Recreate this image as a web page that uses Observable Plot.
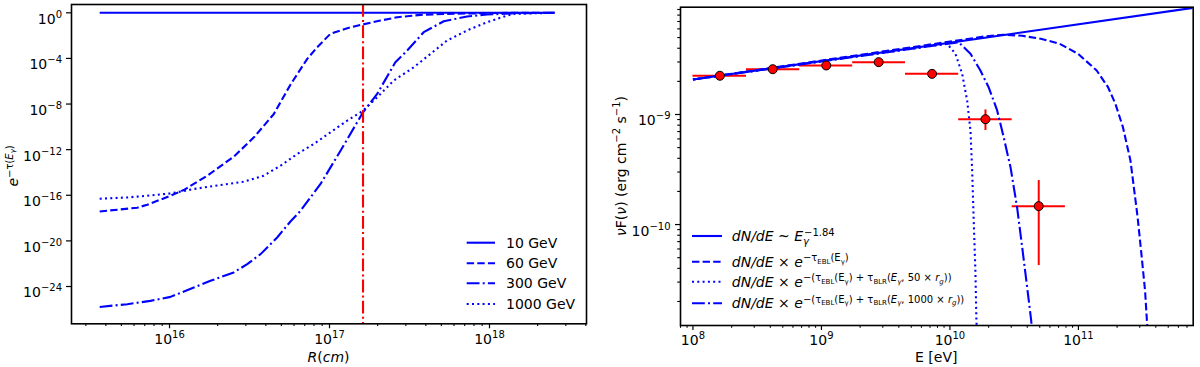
<!DOCTYPE html>
<html><head><meta charset="utf-8">
<script src="https://cdn.jsdelivr.net/npm/d3@7"></script>
<script src="https://cdn.jsdelivr.net/npm/@observablehq/plot@0.6"></script>
<style>
html,body{margin:0;padding:0;background:#fff;}
#wrap{display:flex;width:1200px;height:367px;overflow:hidden;}
#wrap svg{display:block;flex:none;}
</style></head><body><div id="wrap"></div>
<script>
// ---------------- LEFT PANEL DATA: e^{-tau} vs R ----------------
const leftLabels = ["10 GeV", "60 GeV", "300 GeV", "1000 GeV"];
const R10 = [3.66e15, 2.55e18];
const T10 = [1, 1];
const R60 = [3.66e15, 6.28e15, 7.26e15, 1.014e16, 1.227e16, 1.722e16, 2.52e16, 3.37e16, 4.49e16, 5.70e16, 7.26e16, 8.37e16, 1.014e17, 1.291e17, 1.607e17, 2.08e17, 2.65e17, 3.71e17, 5.43e17, 8.79e17, 1.419e18, 2.55e18];
const T60 = [3.80e-18, 8.13e-18, 1.48e-17, 9.12e-17, 2.88e-16, 5.25e-15, 2.40e-13, 1.20e-11, 1.35e-9, 5.01e-7, 9.12e-5, 9.55e-4, 1.45e-2, 4.47e-2, 9.33e-2, 0.209, 0.407, 0.661, 0.813, 0.912, 1, 1];
const R300 = [3.66e15, 5.45e15, 7.60e15, 1.014e16, 1.419e16, 1.803e16, 2.52e16, 3.06e16, 3.71e16, 4.71e16, 5.70e16, 6.59e16, 8.79e16, 1.172e17, 1.607e17, 1.986e17, 2.58e17, 3.06e17, 3.88e17, 5.18e17, 7.24e17, 9.66e17, 1.445e18, 2.55e18];
const T300 = [1.62e-26, 2.82e-26, 5.50e-26, 1.23e-25, 8.13e-25, 3.16e-24, 1.70e-23, 9.12e-23, 6.92e-22, 2.00e-20, 5.01e-19, 4.37e-18, 9.77e-16, 8.13e-13, 1.58e-9, 7.76e-8, 4.57e-5, 4.90e-4, 2.00e-2, 0.182, 0.479, 0.708, 0.912, 1];
const R1000 = [3.66e15, 5.45e15, 7.26e15, 1.014e16, 1.419e16, 2.08e16, 2.91e16, 3.88e16, 4.94e16, 6.28e16, 7.98e16, 1.014e17, 1.291e17, 1.607e17, 1.986e17, 2.52e17, 3.37e17, 4.28e17, 5.43e17, 7.24e17, 9.66e17, 1.288e18, 1.445e18, 2.55e18];
const T1000 = [5.01e-17, 6.46e-17, 9.12e-17, 1.45e-16, 3.55e-16, 7.94e-16, 1.55e-15, 5.25e-15, 3.89e-14, 4.17e-13, 3.16e-12, 3.31e-11, 3.55e-10, 2.40e-9, 3.89e-8, 1.15e-6, 1.70e-5, 2.51e-4, 3.72e-3, 2.82e-2, 0.148, 0.575, 0.813, 1];
const vlineR = [1.62e17];
const leftXDomain = [2.44e15, 4.04e18];
const leftYDomain = [5.37e-28, 5.35];
const leftXMajor = [1e16, 1e17, 1e18];
const leftYMajor = [1, 1e-4, 1e-8, 1e-12, 1e-16, 1e-20, 1e-24];

// ---------------- RIGHT PANEL DATA: SED ----------------
const E_pl = [1e8, 7.8e11];
const F_pl = [2.08e-9, 9.3e-9];
const E_ebl = [1e8, 1.87e10, 2.61e10, 3.65e10, 5.09e10, 7.13e10, 9.93e10, 1.387e11, 1.70e11, 1.94e11, 2.22e11, 2.54e11, 2.70e11, 2.89e11, 3.09e11, 3.30e11, 3.43e11, 3.51e11];
const F_ebl = [2.08e-9, 5.12e-9, 5.31e-9, 5.19e-9, 4.88e-9, 4.40e-9, 3.56e-9, 2.51e-9, 1.77e-9, 1.25e-9, 7.67e-10, 3.82e-10, 2.18e-10, 1.16e-10, 5.42e-11, 2.51e-11, 1.21e-11, 7.9e-12];
const E_blr50 = [1e8, 9.51e9, 1.104e10, 1.245e10, 1.361e10, 1.445e10, 1.489e10, 1.531e10, 1.578e10, 1.607e10, 1.644e10];
const F_blr50 = [2.08e-9, 4.40e-9, 3.56e-9, 2.34e-9, 1.34e-9, 7.16e-10, 3.10e-10, 1.09e-10, 3.82e-11, 1.34e-11, 7.9e-12];
const E_blr1000 = [1e8, 1.169e10, 1.445e10, 1.726e10, 2.00e10, 2.33e10, 2.62e10, 2.96e10, 3.33e10, 3.65e10, 3.99e10, 4.29e10, 4.37e10];
const F_blr1000 = [2.08e-9, 4.54e-9, 3.56e-9, 2.51e-9, 1.77e-9, 1.09e-9, 6.22e-10, 3.32e-10, 1.44e-10, 6.22e-11, 2.69e-11, 1.34e-11, 1.0e-11];
const E_pts = [1.62e8, 4.18e8, 1.09e9, 2.79e9, 7.26e9, 1.89e10, 4.91e10];
const F_pts = [2.25e-9, 2.58e-9, 2.79e-9, 2.99e-9, 2.34e-9, 9.06e-10, 1.47e-10];
const E_lo = [1e8, 2.61e8, 6.78e8, 1.75e9, 4.51e9, 1.17e10, 3.05e10];
const E_hi = [2.61e8, 6.78e8, 1.75e9, 4.51e9, 1.17e10, 3.05e10, 7.92e10];
const F_lo = [2.25e-9, 2.58e-9, 2.79e-9, 2.99e-9, 2.34e-9, 7.16e-10, 4.24e-11];
const F_hi = [2.25e-9, 2.58e-9, 2.79e-9, 2.99e-9, 2.34e-9, 1.10e-9, 2.51e-10];
const rightXDomain = [8.0e7, 7.82e11];
const rightYDomain = [1.21e-11, 9.44e-9];
const rightXMajor = [1e8, 1e9, 1e10, 1e11];
const rightYMajor = [1e-10, 1e-9];

// ---------------- text pieces ----------------
// l: 0 main, 1 superscript, 2 subscript, 3 subscript inside superscript
const rightLegendLabels = [
  [{t:"dN/dE",it:1},{t:" ~ "},{t:"E",it:1},{t:"γ",it:1,l:2},{t:"−1.84",l:1,dx:-5}],
  [{t:"dN/dE",it:1},{t:" × "},{t:"e",it:1},{t:"−τ",l:1},{t:"EBL",l:3},{t:"(E",l:1},{t:"γ",l:3},{t:")",l:1}],
  [{t:"dN/dE",it:1},{t:" × "},{t:"e",it:1},{t:"−(τ",l:1},{t:"EBL",l:3},{t:"(E",l:1},{t:"γ",l:3},{t:") + τ",l:1},{t:"BLR",l:3},{t:"(",l:1},{t:"E",l:1,it:1},{t:"γ",l:3,it:1},{t:", 50 × ",l:1},{t:"r",l:1,it:1},{t:"g",l:3,it:1},{t:"))",l:1}],
  [{t:"dN/dE",it:1},{t:" × "},{t:"e",it:1},{t:"−(τ",l:1},{t:"EBL",l:3},{t:"(E",l:1},{t:"γ",l:3},{t:") + τ",l:1},{t:"BLR",l:3},{t:"(",l:1},{t:"E",l:1,it:1},{t:"γ",l:3,it:1},{t:", 1000 × ",l:1},{t:"r",l:1,it:1},{t:"g",l:3,it:1},{t:"))",l:1}]
];
const leftYTitle = [{t:"e",it:1},{t:"−τ(",l:1},{t:"E",l:1,it:1},{t:"γ",l:3,it:1},{t:")",l:1}];
const leftXTitle = [{t:"R",it:1},{t:"("},{t:"cm",it:1},{t:")"}];
const rightYTitle = [{t:"ν",it:1},{t:"F("},{t:"ν",it:1},{t:") (erg cm"},{t:"−2",l:1},{t:" s"},{t:"−1",l:1},{t:")"}];
const rightXTitle = [{t:"E [eV]"}];

// ---------------- helpers ----------------
const DASH = {solid: null, dashed: "7.4,3.2", dashdot: "12.8,3.2,2,3.2", dotted: "2,3.3"};
const rows = (xs, ys) => xs.map((x, i) => ({x, y: ys[i]}));
function minorTicks([lo, hi]) {
  const out = [];
  for (let e = Math.floor(Math.log10(lo)); e <= Math.ceil(Math.log10(hi)); e++)
    for (let k = 2; k <= 9; k++) { const v = k * 10 ** e; if (v >= lo && v <= hi) out.push(v); }
  return out;
}
const fmt = d => { const e = Math.round(Math.log10(d)); return "10^" + (e < 0 ? "−" + (-e) : String(e)); };
const SIZE = [14, 10, 10, 7];
const RISE = [0, 5.5, -3.5, 3];
function rich(sel, segs, anchor) {
  const t = sel.append("text").attr("text-anchor", anchor || "start").attr("font-size", 14);
  let prev = 0;
  for (const s of segs) {
    const l = s.l || 0, r = RISE[l];
    const ts = t.append("tspan").attr("font-size", SIZE[l]).attr("dy", prev - r).text(s.t);
    if (s.it) ts.attr("font-style", "italic");
    if (s.dx) ts.attr("dx", s.dx);
    prev = r;
  }
  return t;
}
function supTicks(svg) {
  d3.select(svg).selectAll('g[aria-label="x-axis tick label"] text, g[aria-label="y-axis tick label"] text').each(function () {
    const s = this.textContent;
    if (!s.includes("^")) return;
    const [b, e] = s.split("^");
    const t = d3.select(this);
    t.text("");
    t.append("tspan").text(b);
    t.append("tspan").attr("font-size", 10).attr("dy", -6).text(e);
  });
  d3.select(svg).selectAll('g[aria-label="y-axis tick label"] text').attr("dy", 6.5);
}
const STYLE = "font-family:'DejaVu Sans',sans-serif;font-size:14px;color:black;background:white;overflow:visible";
const lineOpts = (dash) => ({x: "x", y: "y", stroke: "blue", strokeWidth: 2.1, strokeDasharray: dash, strokeLinecap: "butt", clip: true});

// ---------------- LEFT PLOT ----------------
const left = Plot.plot({
  width: 600, height: 367,
  marginLeft: 71, marginRight: 14, marginTop: 4, marginBottom: 43.7,
  style: STYLE,
  x: {type: "log", domain: leftXDomain},
  y: {type: "log", domain: leftYDomain},
  marks: [
    Plot.line(rows(R10, T10), lineOpts(DASH.solid)),
    Plot.line(rows(R60, T60), lineOpts(DASH.dashed)),
    Plot.line(rows(R300, T300), lineOpts(DASH.dashdot)),
    Plot.line(rows(R1000, T1000), lineOpts(DASH.dotted)),
    Plot.ruleX(vlineR, {stroke: "red", strokeWidth: 2.1, strokeDasharray: DASH.dashdot}),
    Plot.axisX({ticks: minorTicks(leftXDomain), tickSize: 2.8, tickFormat: () => "", label: null, strokeWidth: 1.1}),
    Plot.axisX({ticks: leftXMajor, tickSize: 5, tickPadding: 5, tickFormat: fmt, label: null, fontSize: 14, strokeWidth: 1.2}),
    Plot.axisY({ticks: leftYMajor, tickSize: 5, tickPadding: 4.5, tickFormat: fmt, label: null, fontSize: 14, strokeWidth: 1.2}),
    Plot.frame({stroke: "black", strokeWidth: 1.6})
  ]
});
supTicks(left);
{
  const g = d3.select(left);
  const ys = [242.7, 263.3, 283.3, 304];
  const st = [DASH.solid, DASH.dashed, DASH.dashdot, DASH.dotted];
  leftLabels.forEach((lab, i) => {
    g.append("line").attr("x1", 466.7).attr("x2", 495).attr("y1", ys[i]).attr("y2", ys[i])
      .attr("stroke", "blue").attr("stroke-width", 2.1).attr("stroke-dasharray", st[i]);
    g.append("text").attr("text-anchor", "start").attr("x", 506).attr("y", ys[i] + 5).attr("font-size", 14).text(lab);
  });
  rich(g, leftXTitle, "middle").attr("x", 328.5).attr("y", 362);
  rich(g, leftYTitle, "middle").attr("transform", "translate(18.3,165.9) rotate(-90)");
}

// ---------------- RIGHT PLOT ----------------
const pts = E_pts.map((e, i) => ({x: e, y: F_pts[i], x1: E_lo[i], x2: E_hi[i], y1: F_lo[i], y2: F_hi[i]}));
const right = Plot.plot({
  width: 600, height: 367,
  marginLeft: 80, marginRight: 7.3, marginTop: 6.7, marginBottom: 42,
  style: STYLE,
  x: {type: "log", domain: rightXDomain},
  y: {type: "log", domain: rightYDomain},
  marks: [
    Plot.ruleY(pts, {y: "y", x1: "x1", x2: "x2", stroke: "red", strokeWidth: 2}),
    Plot.ruleX(pts.filter(d => d.y1 < d.y2), {x: "x", y1: "y1", y2: "y2", stroke: "red", strokeWidth: 2}),
    Plot.line(rows(E_pl, F_pl), lineOpts(DASH.solid)),
    Plot.line(rows(E_ebl, F_ebl), lineOpts(DASH.dashed)),
    Plot.line(rows(E_blr50, F_blr50), lineOpts(DASH.dotted)),
    Plot.line(rows(E_blr1000, F_blr1000), lineOpts(DASH.dashdot)),
    Plot.dot(pts, {x: "x", y: "y", r: 4.5, fill: "red", stroke: "black", strokeWidth: 1}),
    Plot.axisX({ticks: minorTicks(rightXDomain), tickSize: 2.8, tickFormat: () => "", label: null, strokeWidth: 1.1}),
    Plot.axisX({ticks: rightXMajor, tickSize: 5, tickPadding: 5, tickFormat: fmt, label: null, fontSize: 14, strokeWidth: 1.2}),
    Plot.axisY({ticks: minorTicks(rightYDomain), tickSize: 2.8, tickFormat: () => "", label: null, strokeWidth: 1.1}),
    Plot.axisY({ticks: rightYMajor, tickSize: 5, tickPadding: 5, tickFormat: fmt, label: null, fontSize: 14, strokeWidth: 1.2}),
    Plot.frame({stroke: "black", strokeWidth: 1.6})
  ]
});
supTicks(right);
{
  const g = d3.select(right);
  const ys = [236, 261.7, 281.7, 303.3];
  const st = [DASH.solid, DASH.dashed, DASH.dotted, DASH.dashdot];
  rightLegendLabels.forEach((segs, i) => {
    g.append("line").attr("x1", 92).attr("x2", 122).attr("y1", ys[i]).attr("y2", ys[i])
      .attr("stroke", "blue").attr("stroke-width", 2.1).attr("stroke-dasharray", st[i]);
    rich(g, segs).attr("x", 131.8).attr("y", ys[i] + 5);
  });
  rich(g, rightXTitle, "middle").attr("x", 336.3).attr("y", 362);
  rich(g, rightYTitle, "middle").attr("transform", "translate(25.5,166) rotate(-90)");
}

document.getElementById("wrap").append(left, right);
</script></body></html>
